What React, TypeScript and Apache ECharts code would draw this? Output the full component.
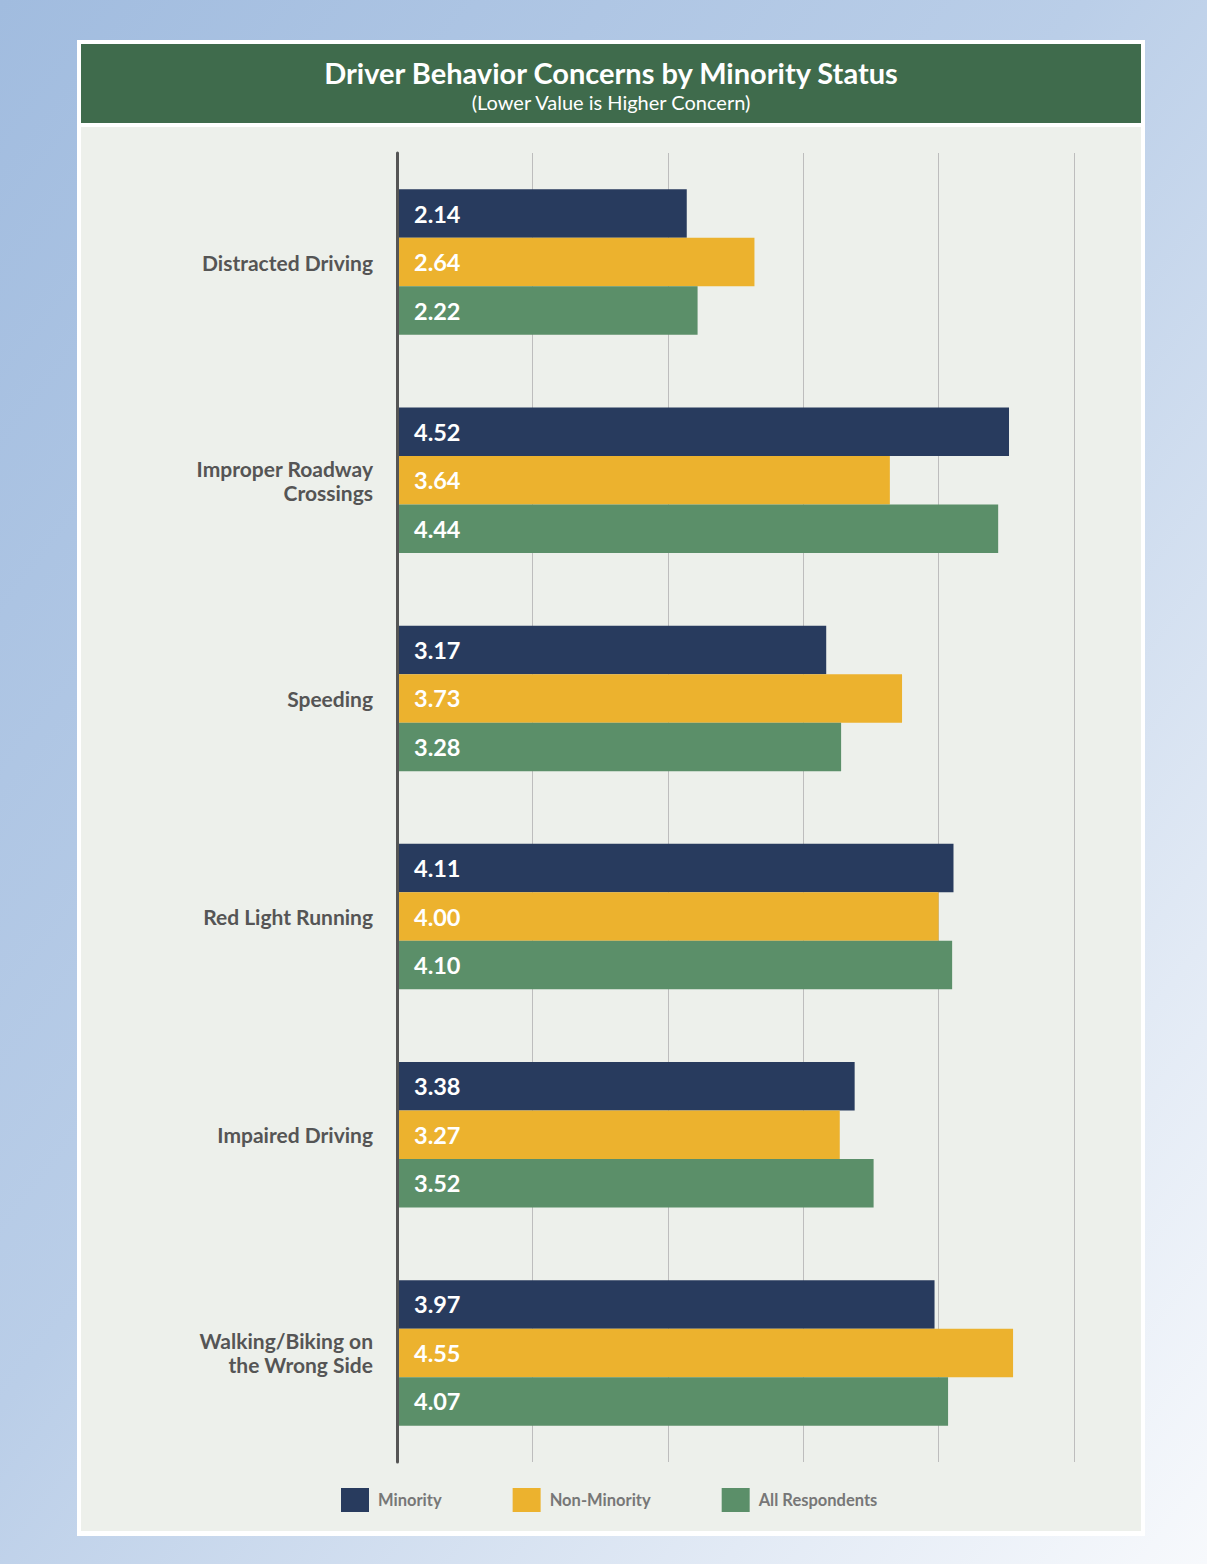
import React, { useEffect, useRef } from "react";
import * as echarts from "echarts";

const categories = [
  "Distracted Driving",
  "Improper Roadway\nCrossings",
  "Speeding",
  "Red Light Running",
  "Impaired Driving",
  "Walking/Biking on\nthe Wrong Side",
];
const seriesNames = ["Minority", "Non-Minority", "All Respondents"];
const minority = [2.14, 4.52, 3.17, 4.11, 3.38, 3.97];
const nonMinority = [2.64, 3.64, 3.73, 4.0, 3.27, 4.55];
const allRespondents = [2.22, 4.44, 3.28, 4.1, 3.52, 4.07];
const colors = ["#283b5e", "#ecb22e", "#5b8f69"];
const titleText = "Driver Behavior Concerns by Minority Status";
const subtitleText = "(Lower Value is Higher Concern)";

const FONT = "Lato, 'Open Sans', sans-serif";

export default function App() {
  const ref = useRef<HTMLDivElement>(null);
  useEffect(() => {
    if (!ref.current) return;
    const chart = echarts.init(ref.current, undefined, { renderer: "svg" });
    const values = [minority, nonMinority, allRespondents];
    chart.setOption({
      animation: false,
      textStyle: { fontFamily: FONT },
      graphic: [
        {
          type: "rect",
          z: -10,
          silent: true,
          shape: { x: 0, y: 0, width: 1207, height: 1564 },
          style: {
            fill: new echarts.graphic.LinearGradient(0, 0, 1, 1, [
              { offset: 0, color: "#a1bcdf" },
              { offset: 0.45, color: "#bacee8" },
              { offset: 0.8, color: "#e2eaf5" },
              { offset: 1, color: "#f7f9fc" },
            ]),
          },
        },
        {
          type: "rect",
          z: -9,
          silent: true,
          shape: { x: 77, y: 40, width: 1068, height: 1496 },
          style: { fill: "#ffffff" },
        },
        {
          type: "rect",
          z: -8,
          silent: true,
          shape: { x: 81, y: 44, width: 1060, height: 79 },
          style: { fill: "#3f6b4c" },
        },
        {
          type: "rect",
          z: -8,
          silent: true,
          shape: { x: 81, y: 127, width: 1060, height: 1404 },
          style: { fill: "#edf0eb" },
        },
        {
          type: "text",
          z: 10,
          silent: true,
          x: 611,
          y: 72,
          style: {
            text: titleText,
            fill: "#ffffff",
            font: `bold 29px ${FONT}`,
            align: "center",
            verticalAlign: "middle",
          },
        },
        {
          type: "text",
          z: 10,
          silent: true,
          x: 611,
          y: 102,
          style: {
            text: subtitleText,
            fill: "#ffffff",
            font: `20px ${FONT}`,
            align: "center",
            verticalAlign: "middle",
          },
        },
      ],
      legend: {
        data: seriesNames,
        left: 336,
        top: 1483,
        itemWidth: 28,
        itemHeight: 24,
        itemGap: 71,
        icon: "rect",
        textStyle: { color: "#777777", fontSize: 16.5, fontWeight: "bold", fontFamily: FONT, padding: [0, 0, 0, 4] },
      },
      grid: { left: 397, right: 133, top: 153, bottom: 102, containLabel: false },
      xAxis: {
        type: "value",
        min: 0,
        max: 5,
        interval: 1,
        axisLabel: { show: false },
        axisLine: { show: false },
        axisTick: { show: false },
        splitLine: { show: true, lineStyle: { color: "#bdbdbd", width: 1 } },
      },
      yAxis: {
        type: "category",
        data: categories,
        inverse: true,
        axisLine: { show: true, lineStyle: { color: "#555555", width: 3 } },
        axisTick: { show: false },
        axisLabel: {
          margin: 24,
          color: "#555555",
          fontSize: 21,
          fontWeight: "bold",
          fontFamily: FONT,
          lineHeight: 24,
          align: "right",
        },
        z: 5,
      },
      series: seriesNames.map((name, i) => ({
        name,
        type: "bar",
        data: values[i],
        barGap: "0%",
        barCategoryGap: "33.3%",
        itemStyle: { color: colors[i] },
        label: {
          show: true,
          position: "insideLeft",
          distance: 17,
          color: "#ffffff",
          fontSize: 23.5,
          fontWeight: "bold",
          fontFamily: FONT,
          formatter: (p: any) => Number(p.value).toFixed(2),
        },
      })),
    });
    return () => chart.dispose();
  }, []);
  return (
    <div
      ref={ref}
      style={{ position: "absolute", left: 0, top: 0, width: 1207, height: 1564 }}
    />
  );
}
